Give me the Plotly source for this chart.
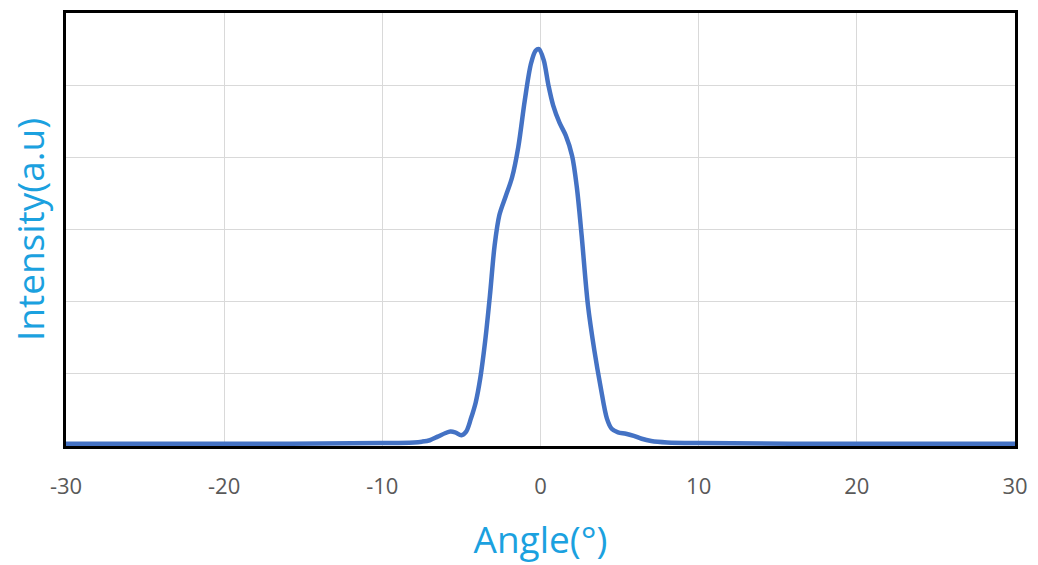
import plotly.graph_objects as go

angle = [-30, -20, -10, -8, -7.5, -7, -6.5, -6, -5.7, -5.4, -5.0, -4.7, -4.4, -4.1, -3.8, -3.5,
         -3.2, -2.9, -2.6, -2.2, -1.8, -1.4, -1.0, -0.6, -0.3, -0.1, 0.2, 0.5, 0.8, 1.2, 1.6,
         2.0, 2.3, 2.6, 3.0, 3.4, 3.8, 4.2, 4.5, 4.9, 5.4, 5.9, 6.4, 7.0, 8.0, 10, 20, 30]
intensity = [0.03, 0.03, 0.04, 0.05, 0.06, 0.08, 0.13, 0.18, 0.20, 0.19, 0.15, 0.20, 0.38, 0.60,
             0.95, 1.45, 2.08, 2.78, 3.20, 3.46, 3.72, 4.15, 4.78, 5.30, 5.48, 5.50, 5.35, 5.00,
             4.72, 4.48, 4.30, 4.02, 3.58, 2.92, 1.95, 1.33, 0.82, 0.38, 0.24, 0.19, 0.17, 0.14,
             0.10, 0.07, 0.05, 0.04, 0.03, 0.03]
x_ticks = [-30, -20, -10, 0, 10, 20, 30]

fig = go.Figure()
fig.add_trace(go.Scatter(
    x=angle, y=intensity, mode="lines",
    line=dict(color="#4472C4", width=4.5, shape="spline", smoothing=0.9),
    showlegend=False, hoverinfo="skip"))

fig.update_layout(
    width=1038, height=565,
    margin=dict(l=66, r=22, t=10, b=119),
    paper_bgcolor="white", plot_bgcolor="white",
    font=dict(family="Open Sans, sans-serif"),
)
fig.update_xaxes(
    range=[-30, 30], tickvals=x_ticks, ticktext=[str(t) for t in x_ticks],
    showgrid=True, gridcolor="#d9d9d9", gridwidth=1, zeroline=False,
    showline=True, linecolor="black", linewidth=3, mirror=True,
    ticks="", ticklabelstandoff=19,
    tickfont=dict(size=22, color="#595959"),
    title=dict(text="Angle(°)", font=dict(size=37, color="#1BA1DF"), standoff=28),
)
fig.update_yaxes(
    range=[0, 6], dtick=1, showticklabels=False,
    showgrid=True, gridcolor="#d9d9d9", gridwidth=1, zeroline=False,
    showline=True, linecolor="black", linewidth=3, mirror=True, ticks="",
    title=dict(text="Intensity(a.u)", font=dict(size=37, color="#1BA1DF"), standoff=8),
)

fig.write_html("out.html")
